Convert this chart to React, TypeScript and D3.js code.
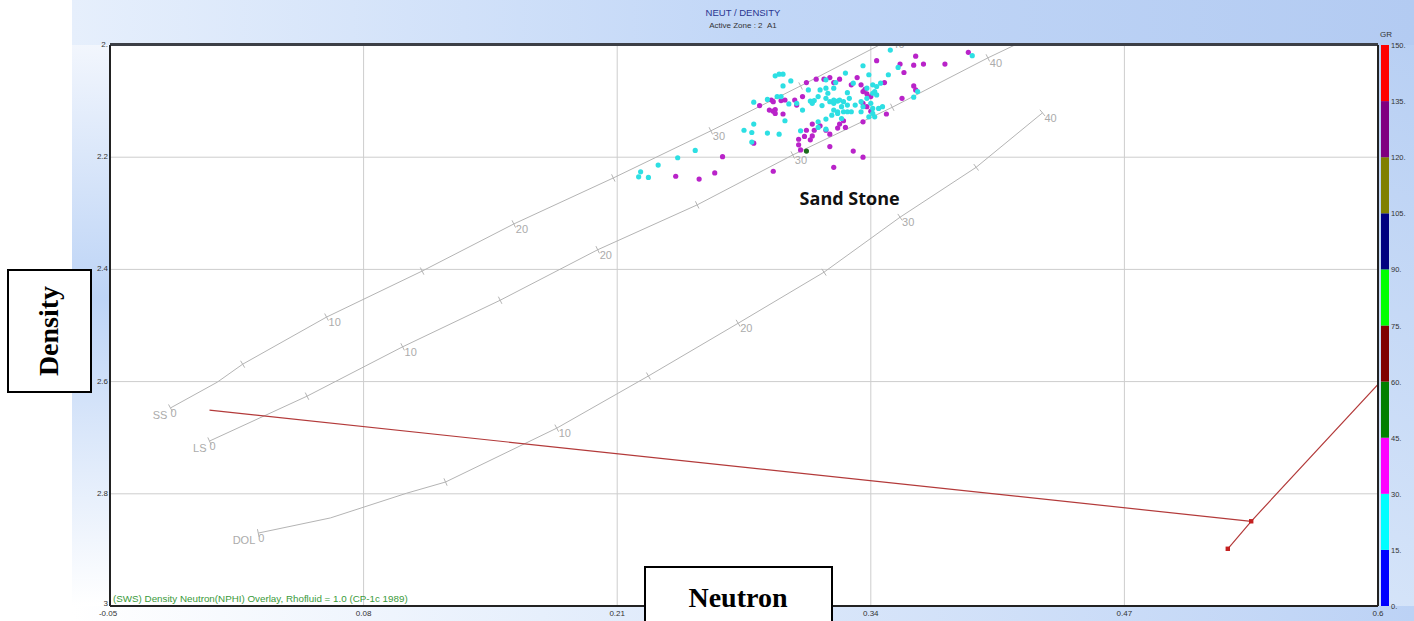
import { useEffect, useRef } from 'react';
import * as d3 from 'd3';

const X_TICKS = [-0.05, 0.08, 0.21, 0.34, 0.47, 0.6];
const X_TICK_LABELS = ['-0.05', '0.08', '0.21', '0.34', '0.47', '0.6'];
const Y_TICKS = [2, 2.2, 2.4, 2.6, 2.8, 3];
const Y_TICK_LABELS = ['2.', '2.2', '2.4', '2.6', '2.8', '3'];

const GR_STEPS = [0, 15, 30, 45, 60, 75, 90, 105, 120, 135, 150];
const GR_LABELS = ['0.', '15.', '30.', '45.', '60.', '75.', '90.', '105.', '120.', '135.', '150.'];
const GR_COLORS = ['#0000ff', '#00ffff', '#ff00ff', '#008000', '#800000', '#00ff00', '#000080', '#808000', '#800080', '#ff0000'];

// lithology lines: [NPHI, RHOB, porosity % or null]
type LithoPt = [number, number, number | null];
const SS_LINE: LithoPt[] = [
  [-0.019, 2.647, 0], [0.005, 2.601, null], [0.018, 2.569, 5], [0.061, 2.485, 10], [0.110, 2.403, 15],
  [0.157, 2.319, 20], [0.208, 2.237, 25], [0.258, 2.153, 30], [0.304, 2.073, 35], [0.350, 1.990, 40],
];
const LS_LINE: LithoPt[] = [
  [0.001, 2.706, 0], [0.051, 2.626, 5], [0.100, 2.538, 10], [0.150, 2.455, 15], [0.200, 2.365, 20],
  [0.251, 2.285, 25], [0.300, 2.196, 30], [0.351, 2.111, 35], [0.400, 2.023, 40], [0.450, 1.940, 45],
];
const DOL_LINE: LithoPt[] = [
  [0.026, 2.870, 0], [0.063, 2.843, null], [0.102, 2.799, null], [0.122, 2.779, 5], [0.179, 2.683, 10],
  [0.226, 2.590, 15], [0.272, 2.496, 20], [0.316, 2.405, 25], [0.355, 2.307, 30], [0.394, 2.218, 35],
  [0.428, 2.121, 40],
];
const LITHO_NAMES = ['SS', 'LS', 'DOL'];

const OVERLAY_A: [number, number][] = [[0.001, 2.651], [0.535, 2.849]];
const OVERLAY_B: [number, number][] = [[0.523, 2.898], [0.535, 2.849], [0.601, 2.601]];
const OVERLAY_MARKERS: [number, number][] = [[0.535, 2.849], [0.523, 2.898]];

// GR 15-30 (cyan) samples
const CYAN_PTS: [number, number][] = [
  [0.221, 2.235], [0.222, 2.226], [0.226, 2.236], [0.231, 2.214], [0.241, 2.201], [0.250, 2.188],
  [0.275, 2.152], [0.279, 2.156], [0.280, 2.141], [0.279, 2.173], [0.287, 2.157], [0.293, 2.159],
  [0.296, 2.135], [0.304, 2.153], [0.280, 2.102], [0.287, 2.097], [0.291, 2.055], [0.293, 2.052],
  [0.295, 2.052], [0.295, 2.073], [0.299, 2.064], [0.292, 2.092], [0.294, 2.092], [0.298, 2.105],
  [0.302, 2.104], [0.308, 2.080], [0.309, 2.100], [0.311, 2.099], [0.313, 2.092], [0.314, 2.080],
  [0.317, 2.062], [0.317, 2.095], [0.319, 2.101], [0.321, 2.098], [0.323, 2.100], [0.324, 2.098],
  [0.326, 2.101], [0.328, 2.085], [0.329, 2.095], [0.327, 2.050], [0.322, 2.067], [0.321, 2.077],
  [0.318, 2.086], [0.315, 2.108], [0.321, 2.116], [0.323, 2.119], [0.326, 2.119], [0.328, 2.119],
  [0.330, 2.119], [0.325, 2.131], [0.323, 2.122], [0.320, 2.125], [0.317, 2.132], [0.313, 2.137],
  [0.317, 2.150], [0.313, 2.147], [0.335, 2.119], [0.335, 2.101], [0.331, 2.068], [0.336, 2.037],
  [0.339, 2.053], [0.341, 2.071], [0.343, 2.074], [0.345, 2.068], [0.342, 2.083], [0.341, 2.086],
  [0.343, 2.089], [0.338, 2.095], [0.340, 2.104], [0.341, 2.113], [0.344, 2.113], [0.346, 2.110],
  [0.341, 2.122], [0.342, 2.128], [0.339, 2.128], [0.349, 2.053], [0.350, 2.009], [0.354, 2.040],
  [0.392, 2.019], [0.362, 2.093], [0.364, 2.083], [0.305, 2.116], [0.310, 2.104], [0.321, 2.104],
  [0.325, 2.110], [0.328, 2.107], [0.332, 2.107], [0.336, 2.110], [0.338, 2.077], [0.317, 2.077],
];

// GR 30-45 (magenta) samples
const MAGENTA_PTS: [number, number][] = [
  [0.240, 2.234], [0.252, 2.239], [0.260, 2.228], [0.264, 2.199], [0.290, 2.225], [0.280, 2.175],
  [0.283, 2.108], [0.289, 2.098], [0.290, 2.101], [0.294, 2.099], [0.296, 2.098], [0.288, 2.116],
  [0.290, 2.118], [0.291, 2.115], [0.291, 2.122], [0.295, 2.123], [0.302, 2.107], [0.303, 2.178],
  [0.304, 2.187], [0.303, 2.168], [0.306, 2.163], [0.307, 2.152], [0.309, 2.169], [0.310, 2.162],
  [0.311, 2.152], [0.310, 2.141], [0.314, 2.144], [0.317, 2.152], [0.319, 2.159], [0.323, 2.148],
  [0.324, 2.141], [0.326, 2.135], [0.327, 2.147], [0.319, 2.181], [0.321, 2.218], [0.331, 2.189],
  [0.336, 2.200], [0.336, 2.137], [0.307, 2.067], [0.305, 2.092], [0.301, 2.098], [0.312, 2.061],
  [0.316, 2.061], [0.319, 2.058], [0.324, 2.061], [0.333, 2.058], [0.335, 2.071], [0.330, 2.071],
  [0.336, 2.083], [0.337, 2.079], [0.338, 2.087], [0.340, 2.092], [0.347, 2.067], [0.343, 2.028],
  [0.355, 2.034], [0.362, 2.036], [0.367, 2.034], [0.363, 2.020], [0.378, 2.034], [0.390, 2.013],
  [0.357, 2.049], [0.362, 2.073], [0.363, 2.080], [0.356, 2.095], [0.348, 2.123], [0.336, 2.104],
  [0.338, 2.110], [0.340, 2.118], [0.321, 2.067],
];

// GR 45-60 (green) samples
const GREEN_PTS: [number, number][] = [[0.307, 2.189]];

export default function App() {
  const svgRef = useRef<SVGSVGElement>(null);

  useEffect(() => {
    const svgEl = svgRef.current;
    if (!svgEl) return;
    const W = 1414, H = 621;
    const margin = { top: 45, right: 36, bottom: 15, left: 110 };
    const x = d3.scaleLinear().domain([-0.05, 0.6]).range([margin.left, W - margin.right]);
    const y = d3.scaleLinear().domain([2, 3]).range([margin.top, H - margin.bottom]);
    const gr = d3.scaleLinear().domain([0, 150]).range([H - margin.bottom, margin.top]);
    const x0 = x.range()[0], x1 = x.range()[1], y0 = y.range()[0], y1 = y.range()[1];

    const svg = d3.select(svgEl).attr('viewBox', `0 0 ${W} ${H}`);
    svg.selectAll('*').remove();
    const defs = svg.append('defs');

    const grad = (id: string, dir: [number, number, number, number], stops: [number, string][]) => {
      const g = defs.append('linearGradient').attr('id', id)
        .attr('x1', dir[0]).attr('y1', dir[1]).attr('x2', dir[2]).attr('y2', dir[3]);
      stops.forEach(([o, c]) => g.append('stop').attr('offset', o).attr('stop-color', c));
    };
    grad('panelGrad', [0, 1, 1, 0], [[0, '#ffffff'], [0.4, '#dbe8fa'], [1, '#b6cef3']]);
    grad('topGrad', [0, 0, 1, 0], [[0, '#e6effc'], [0.5, '#c2d7f7'], [1, '#b3cbf2']]);
    grad('leftGrad', [0, 0, 0, 1], [[0, '#f2f6fd'], [0.45, '#bdd4f6'], [1, '#ffffff']]);
    grad('bottomGrad', [0, 0, 1, 0], [[0, '#ffffff'], [0.35, '#e6effc'], [1, '#bcd2f5']]);

    defs.append('clipPath').attr('id', 'plotClip').append('rect')
      .attr('x', x0).attr('y', y0).attr('width', x1 - x0).attr('height', y1 - y0);

    // panel background
    svg.append('rect').attr('x', 72).attr('y', 0).attr('width', W - 72).attr('height', H).attr('fill', 'url(#panelGrad)');
    svg.append('rect').attr('x', 72).attr('y', 0).attr('width', W - 72).attr('height', y0).attr('fill', 'url(#topGrad)');
    svg.append('rect').attr('x', 72).attr('y', y0).attr('width', x0 - 72).attr('height', y1 - y0).attr('fill', 'url(#leftGrad)');
    svg.append('rect').attr('x', 72).attr('y', y1).attr('width', W - 72).attr('height', H - y1).attr('fill', 'url(#bottomGrad)');
    svg.append('rect').attr('x', x0).attr('y', y0).attr('width', x1 - x0).attr('height', y1 - y0).attr('fill', '#fff');

    // grid
    const grid = svg.append('g');
    X_TICKS.slice(1, -1).forEach((t) => grid.append('line')
      .attr('x1', x(t)).attr('x2', x(t)).attr('y1', y0).attr('y2', y1)
      .attr('stroke', '#cdcdcd').attr('stroke-width', 1));
    Y_TICKS.slice(1, -1).forEach((t) => grid.append('line')
      .attr('x1', x0).attr('x2', x1).attr('y1', y(t)).attr('y2', y(t))
      .attr('stroke', '#cdcdcd').attr('stroke-width', 1));

    const plot = svg.append('g').attr('clip-path', 'url(#plotClip)');

    // lithology lines
    const lineGen = d3.line<LithoPt>().x((d) => x(d[0])).y((d) => y(d[1]));
    [SS_LINE, LS_LINE, DOL_LINE].forEach((pts, li) => {
      plot.append('path').attr('d', lineGen(pts)).attr('fill', 'none')
        .attr('stroke', '#b4b4b4').attr('stroke-width', 1);
      pts.forEach((p, i) => {
        if (p[2] === null) return;
        const a = pts[Math.max(0, i - 1)], b = pts[Math.min(pts.length - 1, i + 1)];
        const dx = x(b[0]) - x(a[0]), dy = y(b[1]) - y(a[1]);
        const len = Math.hypot(dx, dy) || 1;
        const nx = -dy / len, ny = dx / len;
        const px = x(p[0]), py = y(p[1]);
        plot.append('line')
          .attr('x1', px - nx * 4).attr('y1', py - ny * 4)
          .attr('x2', px + nx * 4).attr('y2', py + ny * 4)
          .attr('stroke', '#b4b4b4').attr('stroke-width', 1);
        if (p[2] % 10 !== 0) return;
        plot.append('text').attr('x', px + (p[2] === 0 ? 0 : 2)).attr('y', py + 9)
          .attr('font-family', 'Liberation Sans, Arial, sans-serif').attr('font-size', 11)
          .attr('fill', '#ababab').text(String(p[2]));
        if (p[2] === 0) {
          plot.append('text').attr('x', px - 3).attr('y', py + 11).attr('text-anchor', 'end')
            .attr('font-family', 'Liberation Sans, Arial, sans-serif').attr('font-size', 11)
            .attr('fill', '#ababab').text(LITHO_NAMES[li]);
        }
      });
    });

    // red overlay
    const pairLine = d3.line<[number, number]>().x((d) => x(d[0])).y((d) => y(d[1]));
    [OVERLAY_A, OVERLAY_B].forEach((pts) => plot.append('path').attr('d', pairLine(pts))
      .attr('fill', 'none').attr('stroke', '#b33a3a').attr('stroke-width', 1.2));
    OVERLAY_MARKERS.forEach((d) => plot.append('rect')
      .attr('x', x(d[0]) - 2.2).attr('y', y(d[1]) - 2.2).attr('width', 4.4).attr('height', 4.4)
      .attr('fill', '#c42020'));

    // samples
    const drawPts = (pts: [number, number][], color: string) => plot.append('g').selectAll('circle')
      .data(pts).join('circle')
      .attr('cx', (d) => x(d[0])).attr('cy', (d) => y(d[1])).attr('r', 2.6).attr('fill', color);
    drawPts(MAGENTA_PTS, '#b923c9');
    drawPts(CYAN_PTS, '#2ddfe3');
    drawPts(GREEN_PTS, '#1d6b1d');

    // frame
    svg.append('line').attr('x1', x0).attr('x2', x1).attr('y1', y0 - 0.5).attr('y2', y0 - 0.5)
      .attr('stroke', '#3c3f46').attr('stroke-width', 3);
    svg.append('line').attr('x1', x0).attr('x2', x1).attr('y1', y1).attr('y2', y1)
      .attr('stroke', '#222').attr('stroke-width', 2);
    svg.append('line').attr('x1', x0).attr('x2', x0).attr('y1', y0).attr('y2', y1)
      .attr('stroke', '#222').attr('stroke-width', 2);
    svg.append('line').attr('x1', x1).attr('x2', x1).attr('y1', y0).attr('y2', y1)
      .attr('stroke', '#222').attr('stroke-width', 2);

    // axis labels
    const tickFont = 'Liberation Sans, Arial, sans-serif';
    Y_TICKS.forEach((t, i) => svg.append('text')
      .attr('x', x0 - 2).attr('y', y(t) + (i === Y_TICKS.length - 1 ? 0 : 2)).attr('text-anchor', 'end')
      .attr('font-family', tickFont).attr('font-size', 8).attr('fill', '#333').text(Y_TICK_LABELS[i]));
    X_TICKS.forEach((t, i) => svg.append('text')
      .attr('x', x(t) + (i === 0 ? -2 : 0)).attr('y', y1 + 10).attr('text-anchor', 'middle')
      .attr('font-family', tickFont).attr('font-size', 8).attr('fill', '#333').text(X_TICK_LABELS[i]));

    // GR colour bar
    const barX = x1 + 3, barW = 8;
    GR_COLORS.forEach((c, i) => svg.append('rect')
      .attr('x', barX).attr('y', gr(GR_STEPS[i + 1])).attr('width', barW)
      .attr('height', gr(GR_STEPS[i]) - gr(GR_STEPS[i + 1])).attr('fill', c));
    GR_STEPS.forEach((v, i) => svg.append('text')
      .attr('x', barX + barW + 2).attr('y', gr(v) + 3)
      .attr('font-family', tickFont).attr('font-size', 7.5).attr('fill', '#333').text(GR_LABELS[i]));
    svg.append('text').attr('x', barX + 5).attr('y', y0 - 8).attr('text-anchor', 'middle')
      .attr('font-family', tickFont).attr('font-size', 8).attr('fill', '#333').text('GR');

    // titles
    svg.append('text').attr('x', 743).attr('y', 16).attr('text-anchor', 'middle')
      .attr('font-family', tickFont).attr('font-size', 9.5).attr('fill', '#2a3590').text('NEUT / DENSITY');
    svg.append('text').attr('x', 743).attr('y', 28).attr('text-anchor', 'middle')
      .attr('font-family', tickFont).attr('font-size', 8).attr('fill', '#333').text('Active Zone : 2\u00a0\u00a0A1');
    svg.append('text').attr('x', x0 + 3).attr('y', y1 - 4)
      .attr('font-family', tickFont).attr('font-size', 9.8).attr('fill', '#3a9a3a')
      .text('(SWS) Density Neutron(NPHI) Overlay, Rhofluid = 1.0 (CP-1c 1989)');

    svg.append('text').attr('x', x(0.3035)).attr('y', y(2.286))
      .attr('font-family', 'Open Sans, Noto Sans, sans-serif').attr('font-weight', 700)
      .attr('font-size', 18).attr('fill', '#111').text('Sand Stone');

    // axis title boxes
    svg.append('rect').attr('x', 8).attr('y', 270).attr('width', 83).attr('height', 122)
      .attr('fill', '#fff').attr('stroke', '#000').attr('stroke-width', 2);
    svg.append('text').attr('transform', 'translate(58,331) rotate(-90)').attr('text-anchor', 'middle')
      .attr('font-family', 'Liberation Serif, Times New Roman, serif').attr('font-weight', 700)
      .attr('font-size', 28).attr('fill', '#000').text('Density');
    svg.append('rect').attr('x', 645).attr('y', 567).attr('width', 187).attr('height', 60)
      .attr('fill', '#fff').attr('stroke', '#000').attr('stroke-width', 2);
    svg.append('text').attr('x', 738).attr('y', 607).attr('text-anchor', 'middle')
      .attr('font-family', 'Liberation Serif, Times New Roman, serif').attr('font-weight', 700)
      .attr('font-size', 28).attr('fill', '#000').text('Neutron');
  }, []);

  return (
    <svg ref={svgRef} width={1414} height={621}
      style={{ position: 'absolute', left: 0, top: 0, display: 'block', background: '#fff' }} />
  );
}
